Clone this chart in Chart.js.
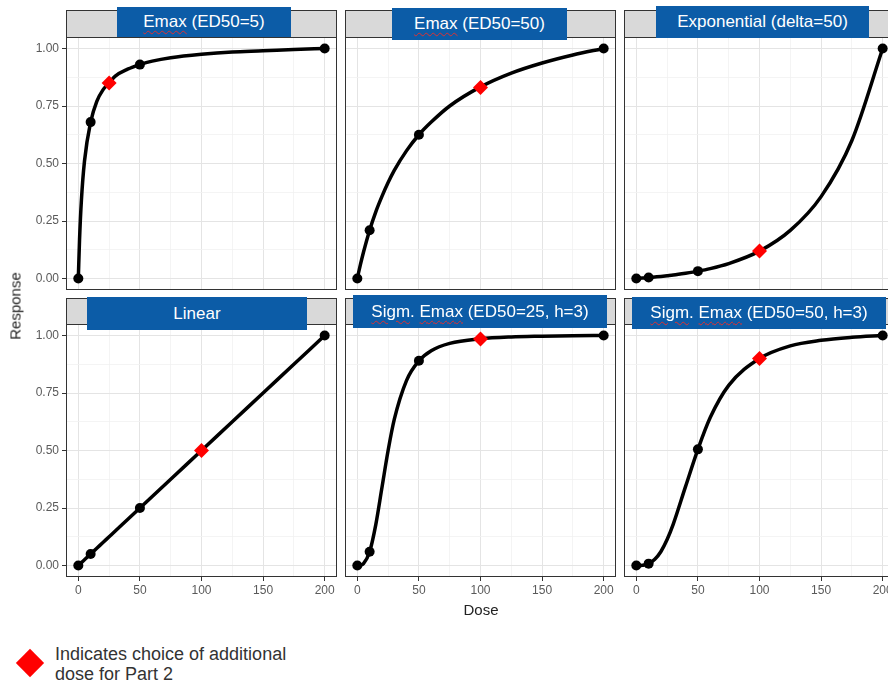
<!DOCTYPE html>
<html>
<head>
<meta charset="utf-8">
<script src="https://cdn.jsdelivr.net/npm/chart.js@4.4.1/dist/chart.umd.min.js"></script>
<style>
  body { margin: 0; width: 888px; height: 685px; overflow: hidden; position: relative; background: #fff;
         font-family: "Liberation Sans", Arial, sans-serif; }
  canvas { position: absolute; }
  .strip { position: absolute; background: #d9d9d9; border: 1px solid #333; box-sizing: border-box; }
  .lab { position: absolute; background: #0c5ca7; color: #fff; font-size: 17px; white-space: nowrap;
         display: flex; align-items: center; justify-content: center; }
  .sq { text-decoration: underline wavy #e03030; text-decoration-thickness: 1px; text-underline-offset: 3px; }
  .axt { position: absolute; font-size: 15px; color: #222; font-weight: normal; white-space: nowrap; }
</style>
</head>
<body>
<script>
// facet titles (row by row)
const titles = ["Emax (ED50=5)", "Emax (ED50=50)", "Exponential (delta=50)",
                "Linear", "Sigm. Emax (ED50=25, h=3)", "Sigm. Emax (ED50=50, h=3)"];

// doses with black points, and the red "chosen" dose per panel
const pointDoses = [0, 10, 50, 200];
const emax5Pts   = [0, 0.68, 0.93, 1.00];
const emax50Pts  = [0, 0.21, 0.625, 1.00];
const expoPts    = [0, 0.004, 0.032, 1.00];
const linearPts  = [0, 0.05, 0.25, 1.00];
const sigm25Pts  = [0, 0.06, 0.89, 1.00];
const sigm50Pts  = [0, 0.008, 0.505, 1.00];

const chosenDose = [25, 100, 100, 100, 100, 100];
const chosenResp = [0.85, 0.83, 0.12, 0.50, 0.985, 0.90];

// dose-response curves
const curveDoses  = [0, 1, 2.5, 5, 10, 15, 20, 25, 30, 40, 50, 60, 75, 100, 125, 150, 175, 200];
const emax5Curve  = [0, 0.17, 0.34, 0.51, 0.68, 0.77, 0.82, 0.85, 0.88, 0.91, 0.93, 0.945, 0.96, 0.975, 0.985, 0.99, 0.996, 1.00];
const emax50Curve = [0, 0.025, 0.06, 0.114, 0.21, 0.29, 0.357, 0.417, 0.47, 0.556, 0.625, 0.68, 0.75, 0.833, 0.893, 0.937, 0.972, 1.00];
const expoCurve   = [0, 0.0004, 0.001, 0.002, 0.004, 0.0065, 0.009, 0.012, 0.015, 0.023, 0.032, 0.043, 0.065, 0.119, 0.209, 0.356, 0.60, 1.00];
const linearCurve = [0, 0.005, 0.0125, 0.025, 0.05, 0.075, 0.10, 0.125, 0.15, 0.20, 0.25, 0.30, 0.375, 0.50, 0.625, 0.75, 0.875, 1.00];
const sigm25Curve = [0, 0, 0.001, 0.008, 0.06, 0.178, 0.339, 0.50, 0.635, 0.805, 0.89, 0.934, 0.966, 0.986, 0.994, 0.997, 0.999, 1.00];
const sigm50Curve = [0, 0, 0, 0.001, 0.008, 0.027, 0.061, 0.113, 0.18, 0.344, 0.505, 0.643, 0.783, 0.90, 0.955, 0.979, 0.992, 1.00];

const xTicks = [0, 25, 50, 75, 100, 125, 150, 175, 200];
const yTicks = [0, 0.125, 0.25, 0.375, 0.5, 0.625, 0.75, 0.875, 1];

const allPts = [emax5Pts, emax50Pts, expoPts, linearPts, sigm25Pts, sigm50Pts];
const allCurves = [emax5Curve, emax50Curve, expoCurve, linearCurve, sigm25Curve, sigm50Curve];

// panel geometry
const colL = [66, 345, 624], colR = [337, 616, 895];
const rowT = [37, 324], rowB = [290, 577];
const stripT = [10, 298];
const labBox = [[117, 7, 291, 37], [392, 8, 567, 40], [656, 6, 869, 38],
                [87, 297, 307, 330], [353, 295, 607, 328], [632, 297, 886, 329]];

const panelBorder = {
    id: "panelBorder",
    afterDraw(chart) {
        const a = chart.chartArea, c = chart.ctx;
        c.save();
        c.strokeStyle = "#333";
        c.lineWidth = 1;
        c.strokeRect(a.left + 0.5, a.top + 0.5, a.right - a.left - 1, a.bottom - a.top - 1);
        c.restore();
    }
};

function addDiv(cls, x, y, w, h, html) {
    const d = document.createElement("div");
    d.className = cls;
    Object.assign(d.style, { left: x + "px", top: y + "px", width: w + "px", height: h + "px" });
    if (html) d.innerHTML = html;
    document.body.appendChild(d);
    return d;
}

const isMajor = v => Math.abs(v / (v > 1.5 ? 50 : 0.25) - Math.round(v / (v > 1.5 ? 50 : 0.25))) < 1e-6;

for (let i = 0; i < 6; i++) {
    const col = i % 3, row = Math.floor(i / 3);
    const L = colL[col], R = colR[col], T = rowT[row], B = rowB[row];
    const yW = col === 0 ? L : 0;
    const xH = row === 1 ? 24 : 0;
    const cv = document.createElement("canvas");
    const left = L - yW;
    cv.width = R - left;
    cv.height = B - T + xH;
    cv.style.left = left + "px";
    cv.style.top = T + "px";
    document.body.appendChild(cv);

    addDiv("strip", L, stripT[row], R - L, T - stripT[row] + 1);

    new Chart(cv, {
        data: {
            datasets: [
                {
                    type: "scatter",
                    data: [{ x: chosenDose[i], y: chosenResp[i] }],
                    pointStyle: "rectRot", pointRadius: 7.5,
                    backgroundColor: "#ff0000", borderColor: "#ff0000", borderWidth: 0
                },
                {
                    type: "scatter",
                    data: pointDoses.map((d, k) => ({ x: d, y: allPts[i][k] })),
                    pointStyle: "circle", pointRadius: 5,
                    backgroundColor: "#000", borderColor: "#000", borderWidth: 0
                },
                {
                    type: "line",
                    data: curveDoses.map((d, k) => ({ x: d, y: allCurves[i][k] })),
                    borderColor: "#000", borderWidth: 3.5, pointRadius: 0,
                    cubicInterpolationMode: "monotone", borderCapStyle: "round", fill: false
                }
            ]
        },
        options: {
            responsive: false,
            animation: false,
            events: [],
            layout: { padding: 0, autoPadding: false },
            plugins: { legend: { display: false }, tooltip: { enabled: false } },
            scales: {
                x: {
                    type: "linear", min: -10, max: 210,
                    afterBuildTicks: s => { s.ticks = xTicks.map(v => ({ value: v })); },
                    afterFit: s => { s.height = xH; s.paddingLeft = 0; s.paddingRight = 0; },
                    border: { display: false },
                    grid: {
                        color: c => isMajor(c.tick.value) ? "#e4e4e4" : "#f1f1f1",
                        lineWidth: c => isMajor(c.tick.value) ? 1 : 0.8,
                        drawTicks: row === 1, tickLength: 4,
                        tickColor: c => isMajor(c.tick.value) ? "#333" : "rgba(0,0,0,0)"
                    },
                    ticks: {
                        display: row === 1, autoSkip: false, maxRotation: 0, padding: 2,
                        color: "#5a5a5a", font: { family: "Liberation Sans", size: 12 },
                        callback: v => isMajor(v) ? String(v) : ""
                    }
                },
                y: {
                    type: "linear", min: -0.05, max: 1.05,
                    afterBuildTicks: s => { s.ticks = yTicks.map(v => ({ value: v })); },
                    afterFit: s => { s.width = yW; s.paddingTop = 0; s.paddingBottom = 0; },
                    border: { display: false },
                    grid: {
                        color: c => isMajor(c.tick.value) ? "#e4e4e4" : "#f1f1f1",
                        lineWidth: c => isMajor(c.tick.value) ? 1 : 0.8,
                        drawTicks: col === 0, tickLength: 4,
                        tickColor: c => isMajor(c.tick.value) ? "#333" : "rgba(0,0,0,0)"
                    },
                    ticks: {
                        display: col === 0, autoSkip: false, padding: 3,
                        color: "#5a5a5a", font: { family: "Liberation Sans", size: 12 },
                        callback: v => isMajor(v) ? v.toFixed(2) : ""
                    }
                }
            }
        },
        plugins: [panelBorder]
    });
}

// blue title boxes laid over the strips
const titleHtml = [
    '<span class="sq">Emax</span> (ED50=5)',
    '<span class="sq">Emax</span> (ED50=50)',
    'Exponential (delta=50)',
    'Linear',
    '<span class="sq">Sigm</span>. <span class="sq">Emax</span> (ED50=25, h=3)',
    '<span class="sq">Sigm</span>. <span class="sq">Emax</span> (ED50=50, h=3)'
];
labBox.forEach((b, i) => {
    const d = addDiv("lab", b[0], b[1], b[2] - b[0], b[3] - b[1], "<span>" + titleHtml[i] + "</span>");
    d.title = titles[i];
});

// axis titles
const dose = addDiv("axt", 0, 0, 0, 0, "Dose");
Object.assign(dose.style, { width: "auto", height: "auto", left: "481px", top: "609px", transform: "translate(-50%,-50%)" });
const resp = addDiv("axt", 0, 0, 0, 0, "Response");
Object.assign(resp.style, { width: "auto", height: "auto", left: "15px", top: "306px", transform: "translate(-50%,-50%) rotate(-90deg)" });

// legend
const dia = addDiv("", 20, 653, 20, 20);
Object.assign(dia.style, { position: "absolute", background: "#ff0000", transform: "rotate(45deg)" });
const leg = addDiv("", 55, 644, 300, 44, "Indicates choice of additional<br>dose for Part 2");
Object.assign(leg.style, { position: "absolute", fontSize: "18px", lineHeight: "20px", color: "#333" });
</script>
</body>
</html>
